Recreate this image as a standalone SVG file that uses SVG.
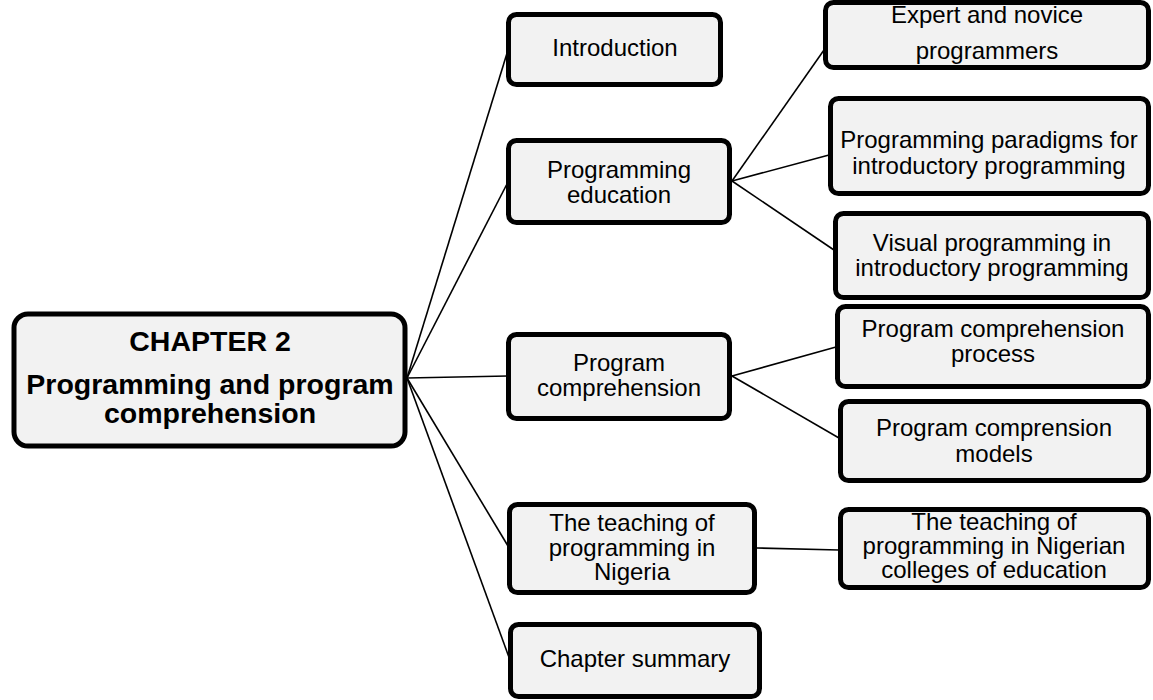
<svg xmlns="http://www.w3.org/2000/svg" width="1153" height="700" viewBox="0 0 1153 700">
  <style>
    .box { fill: #f2f2f2; stroke: #000; stroke-width: 5; }
    .t { font-family: "Liberation Sans", Arial, sans-serif; font-size: 24px; fill: #000; text-anchor: middle; }
    .tb { font-family: "Liberation Sans", Arial, sans-serif; font-size: 28.5px; font-weight: bold; fill: #000; text-anchor: middle; }
    .link { stroke: #000; stroke-width: 1.6; fill: none; }
  </style>

  <!-- connectors -->
  <g id="connectors">
    <line class="link" x1="407" y1="378" x2="508" y2="50"/>
    <line class="link" x1="407" y1="378" x2="508" y2="182"/>
    <line class="link" x1="407" y1="378" x2="508" y2="376"/>
    <line class="link" x1="407" y1="378" x2="508" y2="546"/>
    <line class="link" x1="407" y1="378" x2="510" y2="660"/>
    <line class="link" x1="732" y1="181" x2="824" y2="50"/>
    <line class="link" x1="732" y1="181" x2="829" y2="155"/>
    <line class="link" x1="732" y1="181" x2="834" y2="250"/>
    <line class="link" x1="732" y1="376" x2="836" y2="347"/>
    <line class="link" x1="732" y1="376" x2="839" y2="438"/>
    <line class="link" x1="757" y1="548" x2="839" y2="550"/>
  </g>

  <!-- root node -->
  <g id="chapter2">
    <rect class="box" x="14" y="314" width="391" height="132" rx="14"/>
    <text class="tb" x="210" y="351">CHAPTER 2</text>
    <text class="tb" x="210" y="394">Programming and program</text>
    <text class="tb" x="210" y="423">comprehension</text>
  </g>

  <!-- first-level sections -->
  <g id="introduction">
    <rect class="box" x="508.5" y="14.5" width="212" height="70" rx="8"/>
    <text class="t" x="615" y="56">Introduction</text>
  </g>
  <g id="programming-education">
    <rect class="box" x="508.5" y="140.5" width="221" height="82" rx="8"/>
    <text class="t" x="619" y="178">Programming</text>
    <text class="t" x="619" y="203">education</text>
  </g>
  <g id="program-comprehension">
    <rect class="box" x="508.5" y="334.5" width="221" height="84" rx="8"/>
    <text class="t" x="619" y="371">Program</text>
    <text class="t" x="619" y="396">comprehension</text>
  </g>
  <g id="teaching-nigeria">
    <rect class="box" x="509.5" y="504.5" width="245" height="88" rx="8"/>
    <text class="t" x="632" y="531">The teaching of</text>
    <text class="t" x="632" y="556">programming in</text>
    <text class="t" x="632" y="580">Nigeria</text>
  </g>
  <g id="chapter-summary">
    <rect class="box" x="510.5" y="624.5" width="249" height="72" rx="8"/>
    <text class="t" x="635" y="667">Chapter summary</text>
  </g>

  <!-- second-level sections -->
  <g id="expert-novice">
    <rect class="box" x="825.5" y="2.5" width="323" height="65" rx="8"/>
    <text class="t" x="987" y="23">Expert and novice</text>
    <text class="t" x="987" y="59">programmers</text>
  </g>
  <g id="paradigms">
    <rect class="box" x="830.5" y="98.5" width="318" height="95" rx="8"/>
    <text class="t" x="989" y="148">Programming paradigms for</text>
    <text class="t" x="989" y="174">introductory programming</text>
  </g>
  <g id="visual-programming">
    <rect class="box" x="835.5" y="213.5" width="313" height="84" rx="8"/>
    <text class="t" x="992" y="251">Visual programming in</text>
    <text class="t" x="992" y="276">introductory programming</text>
  </g>
  <g id="comprehension-process">
    <rect class="box" x="837.5" y="306.5" width="311" height="80" rx="8"/>
    <text class="t" x="993" y="337">Program comprehension</text>
    <text class="t" x="993" y="362">process</text>
  </g>
  <g id="comprehension-models">
    <rect class="box" x="840.5" y="401.5" width="308" height="79" rx="8"/>
    <text class="t" x="994" y="436">Program comprension</text>
    <text class="t" x="994" y="462">models</text>
  </g>
  <g id="teaching-colleges">
    <rect class="box" x="840.5" y="509.5" width="308" height="78" rx="8"/>
    <text class="t" x="994" y="530">The teaching of</text>
    <text class="t" x="994" y="554">programming in Nigerian</text>
    <text class="t" x="994" y="578">colleges of education</text>
  </g>
</svg>
